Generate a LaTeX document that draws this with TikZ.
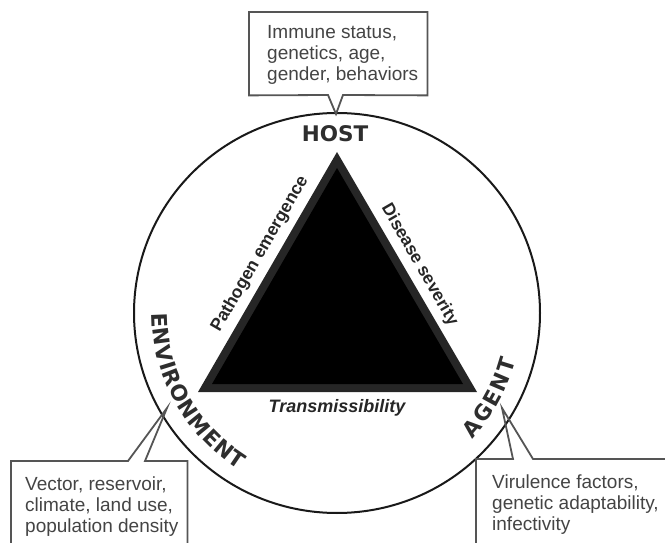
\documentclass[tikz,border=0pt]{standalone}
\usepackage{fontspec}
\setmainfont{Liberation Sans}
\newfontfamily\heavyfont{DejaVu Sans}
\usepackage{tikz}
\usetikzlibrary{calc}
\usetikzlibrary{decorations.text}
\definecolor{labelgray}{HTML}{2E2E2E}
\definecolor{boxgray}{HTML}{555555}
\definecolor{infogray}{HTML}{444444}
\definecolor{rimgray}{HTML}{262626}
\tikzset{rim/.style={line width=2pt, draw=black!90},
  boxline/.style={line width=1.8pt, draw=boxgray, line join=miter},
  infobox/.style={draw=none, inner sep=0pt, anchor=north west},
  infotext/.style={text=infogray, align=left, inner sep=0pt, anchor=north west,
    font=\fontsize{19}{21}\selectfont},
  factor/.style={text=labelgray, font=\heavyfont\bfseries\fontsize{21.5}{24}\selectfont},
  edgelabel/.style={text=black!85, font=\bfseries\fontsize{17.5}{20}\selectfont},
  bentlabel/.style={decorate, decoration={text along path, text align={fit to path},
    text={|\heavyfont\bfseries\fontsize{21.5}{24}\selectfont\color{labelgray}|#1}}}}

\begin{document}
\begin{tikzpicture}[x=1pt, y=1pt]
	\useasboundingbox (0,0) rectangle (665,542);
	\clip (0,0) rectangle (665,542);
	
	\coordinate (hub) at (337,229);
	\draw[rim] (hub) circle[x radius=203, y radius=200];
	
	% the triangle
	\coordinate (apex) at (337,390);
	\coordinate (left) at (198,150);
	\coordinate (right) at (477,150);
	\fill[rimgray] (apex) -- (left) -- (right) -- cycle;
	\fill[black] (337,374) -- (212,158) -- (463,158) -- cycle;
	
	\node[edgelabel, rotate = 60] (emergence) at (260,288) {Pathogen emergence};
	\node[edgelabel, rotate = -60] (severity) at (419.5,277) {Disease severity};
	\node[edgelabel, font=\bfseries\itshape\fontsize{18}{20}\selectfont] (transmiss) at (337,134) {Transmissibility};
	
	\node[factor] (host) at (335,408.5) {HOST};
	\path[bentlabel = ENVIRONMENT] (hub) ++(180:185) arc[start angle=180, end angle=238, radius=185];
	\path[bentlabel = AGENT] (hub) ++(-43:185) arc[start angle=-43, end angle=-15, radius=185];
	
	% callout boxes
	\node[infobox, minimum width = 178, minimum height = 83] (hostbox) at (249,530) {};
	\node[infotext] (hostinfo) at ([xshift=18, yshift=-13]hostbox.north west) {Immune status,\\ genetics, age,\\ gender, behaviors};
	\coordinate (hostL) at (328,447);
	\coordinate (hostR) at (343,447);
	\coordinate (hosttip) at (336,428);
	\draw[boxline] (hostbox.north west) -- (hostbox.north east) -- (hostbox.south east) -- (hostR) -- (hosttip) -- (hostL) -- (hostbox.south west) -- cycle;
	
	\node[infobox, minimum width = 176, minimum height = 110] (envbox) at (11,81) {};
	\node[infotext] (envinfo) at ([xshift=14, yshift=-16]envbox.north west) {Vector, reservoir,\\ climate, land use,\\ population density};
	\coordinate (envL) at (128,81);
	\coordinate (envR) at (145,81);
	\coordinate (envtip) at (167,134);
	\draw[boxline] (envbox.south west) -- (envbox.north west) -- (envL) -- (envtip) -- (envR) -- (envbox.north east) -- (envbox.south east);
	
	\node[infobox, minimum width = 250, minimum height = 110] (agentbox) at (476,83) {};
	\node[infotext] (agentinfo) at ([xshift=16, yshift=-16]agentbox.north west) {Virulence factors,\\ genetic adaptability,\\ infectivity};
	\coordinate (agentL) at (513,83);
	\coordinate (agentR) at (533,83);
	\coordinate (agenttip) at (502,134);
	\draw[boxline] (agentbox.south west) -- (agentbox.north west) -- (agentL) -- (agenttip) -- (agentR) -- (agentbox.north east) -- (agentbox.south east);
\end{tikzpicture}
\end{document}
